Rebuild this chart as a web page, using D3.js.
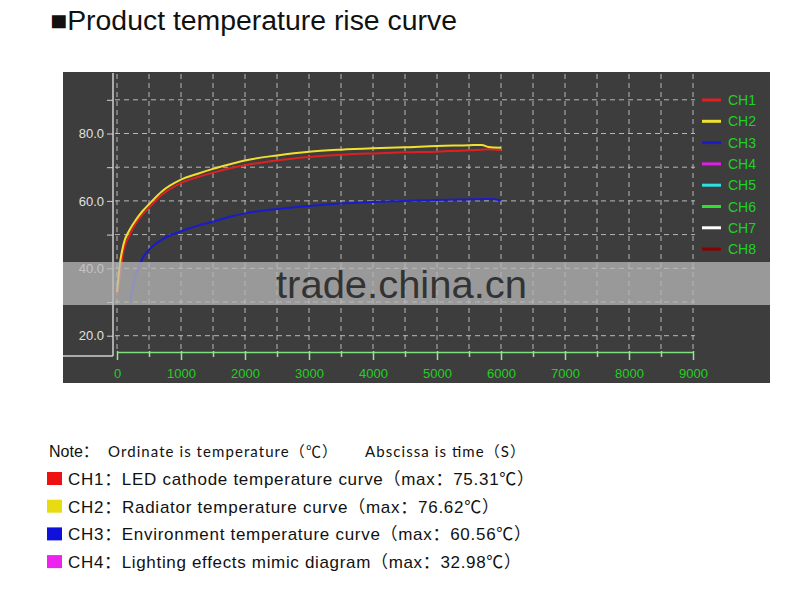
<!DOCTYPE html>
<html>
<head>
<meta charset="utf-8">
<script src="https://cdn.jsdelivr.net/npm/d3@7"></script>
<style>
body { margin: 0; background: #fff; }
svg { display: block; font-family: "Liberation Sans", Arial, "Noto Sans CJK SC", sans-serif; }
</style>
</head>
<body>
<svg id="chart" width="800" height="596"></svg>
<script>
// time in seconds
var times = [0, 50, 100, 200, 300, 400, 500, 700, 1000, 1250, 1500, 1750, 2000, 2500, 3000, 3500, 4000, 4500, 5000, 5500, 5700, 5800, 6000];
var ch1 = [32, 38, 45, 50, 53.5, 56, 58, 61.8, 65.3, 67, 68.4, 69.6, 70.6, 72, 73, 73.7, 74.1, 74.4, 74.6, 75.0, 75.2, 75.31, 75.1];
var ch2 = [33, 42, 47, 51.5, 54.5, 57, 59, 62.8, 66.3, 68, 69.5, 70.8, 72, 73.5, 74.6, 75.2, 75.6, 75.9, 76.3, 76.5, 76.62, 76.0, 75.8];
var ch3 = [null, null, null, 30, 38.5, 43, 45.5, 48.5, 51, 52.6, 53.8, 55.2, 56.3, 57.6, 58.5, 59.2, 59.7, 60, 60.3, 60.45, 60.5, 60.56, 60.2];

var legendNames = ["CH1", "CH2", "CH3", "CH4", "CH5", "CH6", "CH7", "CH8"];
var legendColors = ["#e02020", "#f0e030", "#1a1ad0", "#e020e0", "#30e0e0", "#30e030", "#ffffff", "#8b0000"];

var xTicks = [0, 1000, 2000, 3000, 4000, 5000, 6000, 7000, 8000, 9000];
var yTicks = [20, 40, 60, 80];

var noteRows = [
	{ch: "CH1", text: "LED cathode temperature curve（max：75.31℃）", color: "#ee1111", w: 466},
	{ch: "CH2", text: "Radiator temperature curve（max：76.62℃）", color: "#e8dc10", w: 431},
	{ch: "CH3", text: "Environment temperature curve（max：60.56℃）", color: "#1010dd", w: 463},
	{ch: "CH4", text: "Lighting effects mimic diagram（max：32.98℃）", color: "#ee22ee", w: 453}
];

var svg = d3.select("#chart");

// title
svg.append("text")
   .attr("x", 50).attr("y", 30)
   .style("font-size", "27px")
   .style("fill", "#111")
   .attr("textLength", 407).attr("lengthAdjust", "spacingAndGlyphs")
   .text("■Product temperature rise curve");

// panel
svg.append("rect")
   .attr("x", 63).attr("y", 72)
   .attr("width", 707).attr("height", 311)
   .style("fill", "#3d3d3d");

var x = d3.scaleLinear().domain([0, 9000]).range([117, 693]);
var y = d3.scaleLinear().domain([20, 90]).range([335.7, 99.8]);

// grid
var grid = svg.append("g").attr("class", "grid")
	.style("stroke", "#b8b8b8").style("stroke-dasharray", "5,4").style("stroke-width", 1);
grid.selectAll(".v").data(d3.range(0, 9001, 500)).enter().append("line")
	.attr("x1", d=>x(d)).attr("x2", d=>x(d))
	.attr("y1", 74).attr("y2", 349);
grid.selectAll(".h").data(d3.range(20, 91, 10)).enter().append("line")
	.attr("x1", 115).attr("x2", 695)
	.attr("y1", d=>y(d)).attr("y2", d=>y(d));

// y axis
svg.append("line")
   .attr("x1", 113).attr("x2", 113).attr("y1", 73).attr("y2", 356)
   .style("stroke", "#d0d0d0").style("stroke-width", 1.5);
svg.append("line")
   .attr("x1", 63).attr("x2", 113).attr("y1", 356).attr("y2", 356)
   .style("stroke", "#d0d0d0").style("stroke-width", 1.5);

var yAxis = d3.axisLeft(y)
	.tickValues(d3.range(20, 91, 10))
	.tickSize(6)
	.tickFormat(d => yTicks.indexOf(d) >= 0 ? d.toFixed(1) : "");
var ya = svg.append("g").attr("transform", "translate(113,0)").call(yAxis);
ya.select(".domain").remove();
ya.selectAll("line").style("stroke", "#d0d0d0");
ya.selectAll("text").style("fill", "#e0e0e0").style("font-size", "13px")
  .attr("x", -9);

// x axis
var xAxis = d3.axisBottom(x)
	.tickValues(d3.range(0, 9001, 500))
	.tickSizeOuter(0)
	.tickFormat(d => xTicks.indexOf(d) >= 0 ? d : "");
var xa = svg.append("g").attr("transform", "translate(0,352)").call(xAxis);
xa.select(".domain").style("stroke", "#80e080").style("stroke-width", 1.5);
xa.selectAll(".tick line")
  .attr("y1", -1)
  .attr("y2", d => d % 1000 === 0 ? 8 : 5)
  .style("stroke", "#90e890").style("stroke-width", 1.5);
xa.selectAll("text").style("fill", "#22d022").style("font-size", "13px").attr("y", 17);

// curves
var series = [ch1, ch2, ch3];
var line = d3.line()
	.defined(d => d[1] != null)
	.x(d => x(d[0])).y(d => y(d[1]))
	.curve(d3.curveMonotoneX);
svg.append("g").selectAll("path").data(series).enter().append("path")
   .attr("d", s => line(times.map((t, i) => [t, s[i]])))
   .style("fill", "none")
   .style("stroke", (s, i) => legendColors[i])
   .style("stroke-width", 2);

// legend
var leg = svg.append("g").selectAll("g").data(legendNames).enter().append("g")
	.attr("transform", (d, i) => "translate(702," + (100 + i * 21.3) + ")");
leg.append("line").attr("x1", 0).attr("x2", 19)
   .style("stroke", (d, i) => legendColors[i]).style("stroke-width", 3);
leg.append("text").attr("x", 26).attr("y", 5)
   .style("fill", "#22d022").style("font-size", "14px")
   .text(d => d);

// watermark band
svg.append("rect")
   .attr("x", 63).attr("y", 262).attr("width", 707).attr("height", 43)
   .style("fill", "#b8b8b8").style("opacity", 0.75);
svg.append("text")
   .attr("x", 276).attr("y", 298)
   .attr("textLength", 251).attr("lengthAdjust", "spacingAndGlyphs")
   .style("font-size", "39px")
   .style("fill", "#333")
   .text("trade.china.cn");

// note
svg.append("text").attr("x", 49).attr("y", 457).style("fill", "#111")
   .style("font-size", "16px").text("Note：");
svg.append("text").attr("x", 108).attr("y", 457).style("fill", "#111")
   .style("font-size", "15px").style("font-family", "Lato, 'Noto Sans CJK SC', sans-serif")
   .attr("textLength", 229).attr("lengthAdjust", "spacing")
   .text("Ordinate is temperature（℃）");
svg.append("text").attr("x", 365).attr("y", 457).style("fill", "#111")
   .style("font-size", "15px").style("font-family", "Lato, 'Noto Sans CJK SC', sans-serif")
   .attr("textLength", 160).attr("lengthAdjust", "spacing")
   .text("Abscissa is time（S）");

var rows = svg.append("g").selectAll("g").data(noteRows).enter().append("g")
	.attr("transform", (d, i) => "translate(0," + (479 + i * 27.7) + ")");
rows.append("rect").attr("x", 47).attr("y", -7).attr("width", 15).attr("height", 13)
	.style("fill", d => d.color);
rows.append("text").attr("x", 68).attr("y", 6)
	.style("font-size", "17px").style("fill", "#111")
	.attr("textLength", d => d.w).attr("lengthAdjust", "spacing")
	.text(d => d.ch + "：" + d.text);
</script>
</body>
</html>
